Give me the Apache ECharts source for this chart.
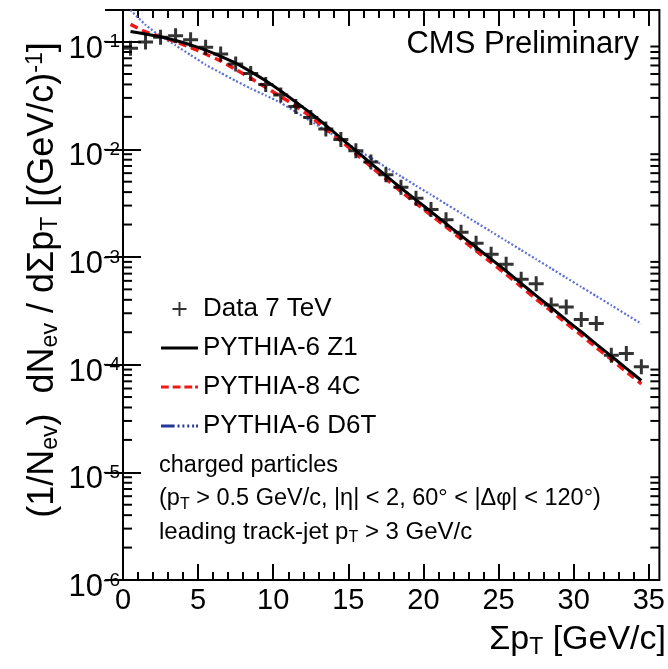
<!DOCTYPE html>
<html><head><meta charset="utf-8">
<script src="https://cdn.jsdelivr.net/npm/echarts@6/dist/echarts.min.js"></script>
<style>html,body{margin:0;padding:0;background:#fff}#c{width:668px;height:669px}</style>
</head><body><div id="c"></div>
<script>
// ---- data ----
const binCenters = [0.5,1.5,2.5,3.5,4.5,5.5,6.5,7.5,8.5,9.5,10.5,11.5,12.5,13.5,14.5,15.5,16.5,17.5,18.5,19.5,20.5,21.5,22.5,23.5,24.5,25.5,26.5,27.5,28.5,29.5,30.5,31.5,32.5,33.5,34.5];
const data7TeV = [0.0867,0.0990,0.1096,0.1130,0.1040,0.0885,0.0768,0.0620,0.0505,0.0400,0.0320,0.0249,0.0197,0.0154,0.0123,0.0097,0.00763,0.0058,0.00445,0.0035,0.00276,0.00222,0.00170,0.00134,0.00106,0.000855,0.00062,0.000565,0.000357,0.000343,0.000263,0.000241,0.000122,0.000127,0.0000955];
const pythia6Z1 = [0.124,0.1175,0.111,0.1023,0.0933,0.0832,0.0730,0.0631,0.0526,0.0432,0.0347,0.0275,0.0216,0.0167,0.0127,0.0097,0.00741,0.00569,0.00437,0.00339,0.00263,0.00204,0.00158,0.00123,0.000955,0.000741,0.000569,0.000437,0.000339,0.00026,0.000202,0.000155,0.00012,0.0000923,0.0000713];
const pythia8_4C = [0.1445,0.123,0.111,0.100,0.0881,0.0767,0.0661,0.0552,0.0457,0.0376,0.0309,0.0251,0.0200,0.0155,0.0120,0.0091,0.0069,0.0053,0.00406,0.00315,0.00245,0.0019,0.00147,0.00114,0.00089,0.00069,0.00053,0.000406,0.000315,0.000242,0.000188,0.000144,0.000112,0.0000858,0.0000664];
const pythia6D6T = [0.196,0.143,0.112,0.0923,0.075,0.061,0.0513,0.0432,0.0367,0.0316,0.0270,0.0222,0.0182,0.0150,0.0123,0.0101,0.0083,0.00681,0.0056,0.00459,0.00378,0.0031,0.00255,0.00209,0.00172,0.00141,0.00116,0.000951,0.000782,0.000641,0.000527,0.000433,0.000356,0.000292,0.00024];
const seriesNames = ['Data 7 TeV','PYTHIA-6 Z1','PYTHIA-8 4C','PYTHIA-6 D6T'];
const xMajorTicks = [0,5,10,15,20,25,30,35];
const xMinorTicks = [0,1,2,3,4,5,6,7,8,9,10,11,12,13,14,15,16,17,18,19,20,21,22,23,24,25,26,27,28,29,30,31,32,33,34,35];
const xMin = 0, xMax = 35.7;
const yMin = 1e-6, yMax = 0.1965;
const yMinorMantissas = [2,3,4,5,6,7,8,9];
const yDecadeExponents = [-6,-5,-4,-3,-2,-1];

// ---- chart ----
const FF = "'Liberation Sans', Arial, Helvetica, sans-serif";
const chart = echarts.init(document.getElementById('c'), null, {renderer:'canvas'});
const pairs = arr => binCenters.map((x, i) => [x, arr[i]]);
const plusPath = 'path://M0,40 L100,40 L100,60 L0,60 Z M40,0 L60,0 L60,100 L40,100 Z';
const plusThin = 'path://M0,43 L100,43 L100,57 L0,57 Z M43,0 L57,0 L57,100 L43,100 Z';
const iconSolid = 'path://M0,0 H38 V3 H0 Z';
const iconDashed = 'path://M0,0 H8 V3.2 H0 Z M12,0 H20 V3.2 H12 Z M24,0 H32 V3.2 H24 Z M35,0 H38 V3.2 H35 Z';
const iconDashDot = 'path://M0,0 H14 V3 H0 Z M17,0 H19 V3 H17 Z M22,0 H24 V3 H22 Z M27,0 H29 V3 H27 Z M32,0 H34 V3 H32 Z M36,0 H38 V3 H36 Z';

function xAxisDef(pos, ticks, len, labels) {
  return {
    type:'value', min:xMin, max:xMax, position:pos, gridIndex:0,
    axisLine:{show:false, onZero:false},
    splitLine:{show:false},
    axisTick:{show:true, inside:true, length:len, customValues:ticks, lineStyle:{color:'#000', width:2}},
    axisLabel: labels ? {show:true, customValues:xMajorTicks, fontSize:29, color:'#000', fontFamily:FF, margin:6} : {show:false}
  };
}
function yAxisDef(pos, labels) {
  return {
    type:'log', logBase:10, min:yMin, max:yMax, position:pos, gridIndex:0,
    axisLine:{show:false},
    splitLine:{show:false},
    minorTick:{show:false},
    axisTick:{show:true, inside:true, length:18, lineStyle:{color:'#000', width:2}},
    axisLabel: labels ? {
      show:true, color:'#000', fontFamily:FF, fontSize:31, margin:3,
      padding:[15,0,0,0],
      formatter: function (v) {
        const lg = Math.log10(v); const e = Math.round(lg);
        if (Math.abs(lg - e) > 1e-6) return '';
        return '10{s|' + e + '}';
      },
      rich:{ s:{fontSize:19, fontFamily:FF, color:'#000', padding:[0,0,14,0]} }
    } : {show:false}
  };
}

const richSub = {
  s:{fontSize:23, fontFamily:FF, fill:'#000', padding:[15,0,0,0]},
  u:{fontSize:23, fontFamily:FF, fill:'#000', padding:[0,0,15,0]}
};
const richSubX = {
  s:{fontSize:23, fontFamily:FF, fill:'#000', padding:[15,0,0,0]}
};
const smallSub = { s:{fontSize:16, fontFamily:FF, fill:'#000', padding:[12,0,0,0]} };

const textEls = [
  {type:'text', x:639, y:44, silent:true, style:{text:'CMS Preliminary', align:'right', verticalAlign:'middle', fontSize:31, fontFamily:FF, fill:'#000'}},
  {type:'text', x:43, y:280, rotation:Math.PI/2, silent:true, style:{text:'(1/N{s|ev})  dN{s|ev} / dΣp{s|T} [(GeV/c){u|-1}]', rich:richSub, align:'center', verticalAlign:'middle', fontSize:36, fontFamily:FF, fill:'#000'}},
  {type:'text', x:666, y:640, silent:true, style:{text:'Σp{s|T} [GeV/c]', rich:richSubX, align:'right', verticalAlign:'middle', fontSize:34, fontFamily:FF, fill:'#000'}},
  {type:'text', x:159, y:466, silent:true, style:{text:'charged particles', align:'left', verticalAlign:'middle', fontSize:23.5, fontFamily:FF, fill:'#000'}},
  {type:'text', x:159, y:499, silent:true, style:{text:'(p{s|T} > 0.5 GeV/c, |η| < 2, 60° < |Δφ| < 120°)', rich:smallSub, align:'left', verticalAlign:'middle', fontSize:23.5, fontFamily:FF, fill:'#000'}},
  {type:'text', x:159, y:532, silent:true, style:{text:'leading track-jet p{s|T} > 3 GeV/c', rich:smallSub, align:'left', verticalAlign:'middle', fontSize:24, fontFamily:FF, fill:'#000'}}
];

const option = {
  animation:false,
  backgroundColor:'#fff',
  grid:{left:123, right:4, top:10, bottom:89, show:true, borderColor:'#000', borderWidth:2, backgroundColor:'transparent'},
  xAxis:[
    xAxisDef('bottom', xMajorTicks, 16, true),
    xAxisDef('bottom', xMinorTicks, 8, false),
    xAxisDef('top', xMajorTicks, 16, false),
    xAxisDef('top', xMinorTicks, 8, false)
  ],
  yAxis:[ yAxisDef('left', true), yAxisDef('right', false) ],
  legend:{
    orient:'vertical', left:156, top:291, itemWidth:37, itemHeight:14, itemGap:13,
    textStyle:{fontSize:26, fontFamily:FF, color:'#000'},
    data:[
      {name:seriesNames[0], icon:plusThin},
      {name:seriesNames[1], icon:iconSolid},
      {name:seriesNames[2], icon:iconDashed},
      {name:seriesNames[3], icon:iconDashDot, itemStyle:{color:'#22389a'}}
    ]
  },
  series:[
    {name:seriesNames[3], type:'line', data:pairs(pythia6D6T), symbol:'none', smooth:0.15, z:2, silent:true,
     lineStyle:{color:'#5c6fd6', width:2.2, type:[2,2]}, itemStyle:{color:'#5c6fd6'}},
    {name:seriesNames[2], type:'line', data:pairs(pythia8_4C), symbol:'none', smooth:0.15, z:3, silent:true,
     lineStyle:{color:'#f01818', width:3.5, type:[8,5]}, itemStyle:{color:'#f01818'}},
    {name:seriesNames[1], type:'line', data:pairs(pythia6Z1), symbol:'none', smooth:0.15, z:4, silent:true,
     lineStyle:{color:'#000', width:3}, itemStyle:{color:'#000'}},
    {name:seriesNames[0], type:'scatter', data:pairs(data7TeV), symbol:plusPath, symbolSize:[15,15], z:5, silent:true,
     itemStyle:{color:'#000'}}
  ],
  graphic:{elements:textEls}
};
chart.setOption(option);

// minor log ticks on left and right edges, positioned through the y axis scale
const xl = chart.convertToPixel({xAxisIndex:0}, xMin);
const xr = chart.convertToPixel({xAxisIndex:0}, xMax);
const tickEls = [];
yDecadeExponents.forEach(e => {
  yMinorMantissas.forEach(m => {
    const v = m * Math.pow(10, e);
    if (v > yMax) return;
    const y = chart.convertToPixel({yAxisIndex:0}, v);
    tickEls.push({type:'line', silent:true, shape:{x1:xl, y1:y, x2:xl+9, y2:y}, style:{stroke:'#000', lineWidth:2}});
    tickEls.push({type:'line', silent:true, shape:{x1:xr-9, y1:y, x2:xr, y2:y}, style:{stroke:'#000', lineWidth:2}});
  });
});
chart.setOption({graphic:{elements:textEls.concat(tickEls)}});
</script></body></html>
